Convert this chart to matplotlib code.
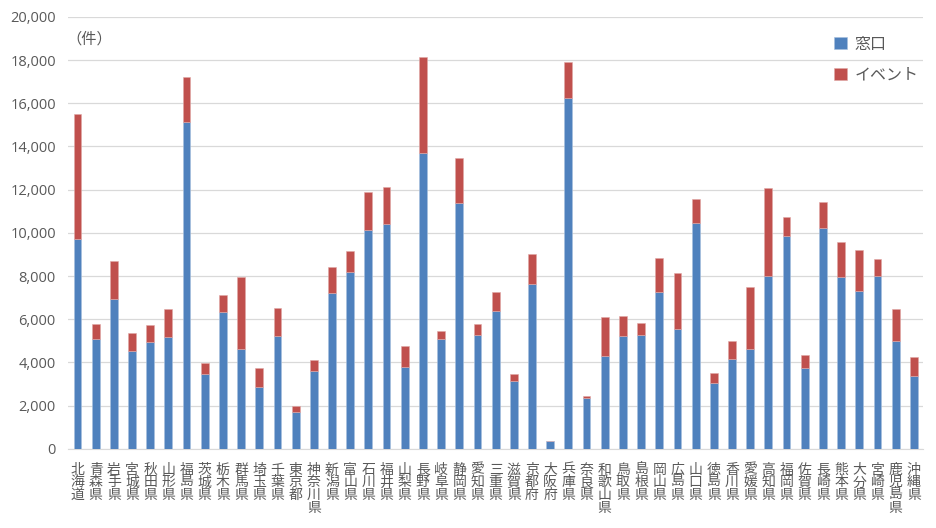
import matplotlib.pyplot as plt
import numpy as np

plt.rcParams['font.family'] = ['Noto Sans CJK JP', 'DejaVu Sans']

# 都道府県
prefs = ['北海道', '青森県', '岩手県', '宮城県', '秋田県', '山形県', '福島県',
         '茨城県', '栃木県', '群馬県', '埼玉県', '千葉県', '東京都', '神奈川県',
         '新潟県', '富山県', '石川県', '福井県', '山梨県', '長野県', '岐阜県',
         '静岡県', '愛知県', '三重県', '滋賀県', '京都府', '大阪府', '兵庫県',
         '奈良県', '和歌山県', '鳥取県', '島根県', '岡山県', '広島県', '山口県',
         '徳島県', '香川県', '愛媛県', '高知県', '福岡県', '佐賀県', '長崎県',
         '熊本県', '大分県', '宮崎県', '鹿児島県', '沖縄県']

# 窓口 (件)
madoguchi = [9700, 5100, 6920, 4550, 4950, 5180, 15130,
             3450, 6340, 4610, 2850, 5230, 1710, 3620,
             7230, 8190, 10120, 10410, 3810, 13710, 5090,
             11360, 5270, 6370, 3150, 7650, 370, 16250,
             2340, 4300, 5230, 5260, 7250, 5540, 10440,
             3070, 4180, 4610, 8000, 9850, 3760, 10240,
             7940, 7310, 8020, 5000, 3350]

# 合計 (窓口 + イベント)
total = [15500, 5780, 8680, 5380, 5740, 6480, 17220,
         3950, 7110, 7960, 3750, 6510, 1990, 4090,
         8420, 9160, 11890, 12140, 4750, 18150, 5470,
         13480, 5780, 7250, 3480, 9010, 370, 17890,
         2450, 6120, 6140, 5840, 8820, 8140, 11570,
         3520, 5010, 7480, 12090, 10750, 4330, 11430,
         9560, 9190, 8770, 6480, 4240]

event = [t - m for t, m in zip(total, madoguchi)]

grey = '#595959'
fig = plt.figure(figsize=(9.36, 5.28), dpi=100)
ax = fig.add_axes([0.073, 0.150, 0.913, 0.818])

x = np.arange(len(prefs))
ax.bar(x, madoguchi, width=0.43, color='#4F81BD', edgecolor='#A7C0DE', linewidth=0.4, label='窓口', zorder=3)
ax.bar(x, event, width=0.43, bottom=madoguchi, color='#C0504D', edgecolor='#E0A8A6', linewidth=0.4, label='イベント', zorder=3)

ax.set_ylim(0, 20000)
ax.set_xlim(-0.5, len(prefs) - 0.5)
ax.set_yticks(np.arange(0, 20001, 2000))
ax.set_yticklabels([f'{v:,}' for v in range(0, 20001, 2000)], color=grey, fontsize=10.5,
                   family=['Open Sans', 'DejaVu Sans'])
ax.set_xticks(x)
ax.set_xticklabels(['\n'.join(p) for p in prefs], color=grey, fontsize=10,
                   linespacing=0.88, va='top')
ax.tick_params(axis='x', length=0, pad=10)
ax.tick_params(axis='y', length=0, pad=9)

ax.grid(axis='y', color='#D9D9D9', linewidth=0.9, zorder=0)
for s in ['top', 'right', 'left']:
    ax.spines[s].set_visible(False)
ax.spines['bottom'].set_color('#D9D9D9')

fig.text(0.071, 0.926, '（件）', color=grey, fontsize=11, va='center')

ax.legend(loc='upper right', bbox_to_anchor=(1.012, 0.99), frameon=False,
          fontsize=11.5, handlelength=0.8, handleheight=0.8, handletextpad=0.5,
          labelspacing=0.85, labelcolor=grey)

fig.savefig('out.png', dpi=100)
